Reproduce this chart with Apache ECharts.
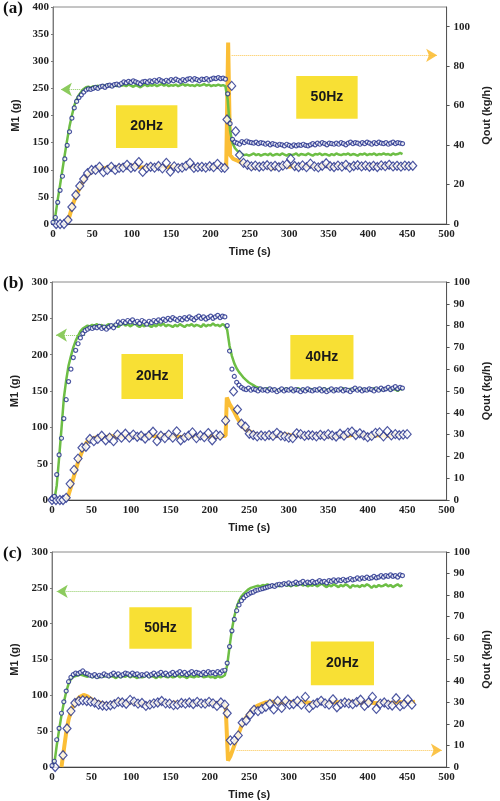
<!DOCTYPE html>
<html>
<head>
<meta charset="utf-8">
<script src="https://cdn.jsdelivr.net/npm/echarts@6/dist/echarts.min.js"></script>
<style>
  html, body { margin: 0; padding: 0; background: #fff; }
  #chart { width: 500px; height: 801px; }
</style>
</head>
<body>
<div id="chart"></div>
<script>
// sample times of the M1 record (s), shared by the three runs
const tM = [
  0, 3, 6, 9, 12, 15, 18, 21, 24, 27,
  30, 33, 36, 39, 42, 45, 48, 51, 54, 57,
  60, 63, 66, 69, 72, 75, 78, 81, 84, 87,
  90, 93, 96, 99, 102, 105, 108, 111, 114, 117,
  120, 123, 126, 129, 132, 135, 138, 141, 144, 147,
  150, 153, 156, 159, 162, 165, 168, 171, 174, 177,
  180, 183, 186, 189, 192, 195, 198, 201, 204, 207,
  210, 213, 216, 219, 222, 225, 228, 231, 234, 237,
  240, 243, 246, 249, 252, 255, 258, 261, 264, 267,
  270, 273, 276, 279, 282, 285, 288, 291, 294, 297,
  300, 303, 306, 309, 312, 315, 318, 321, 324, 327,
  330, 333, 336, 339, 342, 345, 348, 351, 354, 357,
  360, 363, 366, 369, 372, 375, 378, 381, 384, 387,
  390, 393, 396, 399, 402, 405, 408, 411, 414, 417,
  420, 423, 426, 429, 432, 435, 438, 441, 444
]

// (a) 20Hz -> 50Hz
const mA = [
  3, 12, 40, 62, 88, 120, 145, 170, 195, 214,
  226, 233, 238, 243, 247, 249, 248, 250, 252, 250,
  253, 254, 252, 255, 256, 254, 257, 258, 256, 259,
  262, 260, 263, 261, 264, 262, 260, 258, 262, 263,
  261, 264, 262, 265, 263, 266, 264, 262, 265, 263,
  266, 264, 267, 265, 263, 266, 264, 267, 268, 265,
  268, 266, 264, 267, 266, 268, 265, 267, 269, 268,
  270, 268, 269, 267, 240, 185, 156, 151, 149, 147,
  152, 150, 153, 151, 150, 149, 151, 148, 150, 149,
  147, 149, 146, 148, 147, 145, 147, 146, 144, 147,
  145, 143, 146, 144, 146, 145, 147, 145, 144, 146,
  148, 146, 149, 147, 150, 148, 146, 149, 148, 147,
  149, 147, 150, 148, 146, 149, 151, 148, 150, 149,
  147, 150, 148, 151, 149, 147, 150, 148, 151, 149,
  148, 150, 147, 149, 151, 148, 150, 149, 148
]
const gA = [
  0, 15, 45, 72, 100, 128, 155, 180, 200, 218,
  230, 238, 244, 249, 252, 253, 251, 254, 253, 255,
  252, 256, 254, 257, 255, 253, 256, 254, 257, 255,
  256, 254, 257, 255, 253, 256, 254, 252, 255, 257,
  254, 256, 255, 257, 254, 256, 258, 255, 257, 254,
  256, 255, 257, 254, 256, 258, 255, 257, 255, 256,
  254, 257, 255, 256, 258, 255, 257, 254, 256, 255,
  257, 255, 256, 254, 228, 172, 149, 140, 135, 132,
  129, 127, 128, 126, 128, 130, 127, 129, 126, 128,
  129, 127, 130, 126, 128, 129, 127, 130, 128, 126,
  129, 127, 128, 130, 126, 129, 128, 127, 130, 128,
  126, 129, 128, 130, 127, 129, 128, 126, 129, 127,
  130, 128, 127, 129, 128, 130, 127, 129, 128, 126,
  129, 128, 130, 127, 129, 128, 130, 127, 129, 128,
  130, 128, 129, 127, 130, 128, 129, 131, 129
]
const qA = [
  [4, 0], [9, 0], [14, 0], [19, 2], [24, 8.6], [29, 14.7], [34, 19.3], [39, 22.8], [44, 25.8], [49, 27.4],
  [54, 27.4], [59, 29], [64, 26.3], [69, 27.4], [74, 29], [79, 27.4], [84, 28.4], [89, 28.6], [94, 30], [99, 28.4],
  [104, 29], [109, 31.4], [114, 26.4], [119, 28.4], [124, 29], [129, 28.6], [134, 29.4], [139, 28.2], [144, 31], [149, 26.5],
  [154, 29.2], [159, 28.3], [164, 28.6], [169, 29.5], [174, 31], [179, 28.4], [184, 28.8], [189, 29], [194, 28.6], [199, 29.3],
  [204, 28.8], [209, 30.5], [214, 28.6], [218, 28.4], [221, 53], [227, 70], [232, 47], [237, 35], [242, 31], [247, 30],
  [252, 29.2], [257, 29.6], [262, 29], [267, 29.3], [272, 29.8], [277, 29.1], [282, 29.5], [287, 28.8], [292, 29.6], [297, 30.2],
  [302, 33], [307, 29.4], [312, 28.9], [317, 29.7], [322, 28.8], [327, 30.6], [332, 29.2], [337, 28.7], [342, 29.5], [347, 30.8],
  [352, 29.3], [357, 28.9], [362, 29.6], [367, 29.1], [372, 30], [377, 28.6], [382, 29.4], [387, 29.8], [392, 29.2], [397, 29.6],
  [402, 29], [407, 29.5], [412, 28.9], [417, 29.7], [422, 29.3], [427, 30], [432, 29.2], [437, 29.5], [442, 29.1], [447, 29.6],
  [452, 29.3], [457, 29.5]
]
const oA = [
  [17, 0], [21, 4], [25, 9.7], [30, 15], [34, 18.3], [38, 21.5], [42, 24], [46, 25.5], [50, 26.8], [55, 28],
  [60, 28.5], [65, 28.2], [70, 28.8], [75, 28.2], [80, 28.6], [85, 29], [90, 29.5], [95, 29], [100, 29.4], [105, 30],
  [110, 28.8], [115, 28.6], [120, 29], [125, 29.3], [130, 28.9], [135, 29.6], [140, 29.2], [145, 28.7], [150, 29.1], [155, 28.8],
  [160, 29.2], [165, 29], [170, 29.6], [175, 29.2], [180, 28.9], [185, 29.1], [190, 28.8], [195, 29.2], [200, 29], [205, 29.3],
  [210, 29], [215, 28.8], [220, 28.6], [222.5, 92], [225, 35], [229, 33], [235, 32], [240, 31], [245, 30], [250, 29.4],
  [255, 28.4], [260, 29.8], [265, 29.2], [270, 29.6], [275, 28.6], [280, 28.2], [285, 29.8], [290, 29.3], [295, 29.7], [300, 29],
  [305, 29.5], [310, 28.9], [315, 29.6], [320, 29.2], [325, 29.8], [330, 29.3], [335, 28.8], [340, 29.5], [345, 29.9], [350, 29.3],
  [355, 29], [360, 29.6], [365, 29.2], [370, 29.8], [375, 29.1], [380, 29.5], [385, 29.7], [390, 29.2], [395, 29.6], [400, 29.1],
  [405, 29.5], [410, 29.2], [415, 29.7], [420, 29.3], [425, 29.8], [430, 29.2], [435, 29.6], [440, 29.3], [445, 29.5], [450, 29.4],
  [455, 29.6]
]

// (b) 20Hz -> 40Hz
const mB = [
  2, 5, 35, 62, 85, 112, 138, 163, 180, 196,
  206, 215, 223, 229, 233, 235, 237, 236, 238, 237,
  239, 236, 238, 235, 238, 240, 237, 241, 245, 243,
  246, 244, 247, 245, 248, 244, 246, 243, 247, 245,
  242, 246, 244, 247, 245, 248, 246, 249, 247, 250,
  248, 251, 249, 247, 250, 248, 251, 249, 252, 250,
  248, 251, 253, 250, 252, 249, 251, 253, 250, 252,
  254, 251, 253, 252, 240, 205, 180, 170, 162, 158,
  155, 153, 152, 154, 151, 153, 152, 150, 153, 151,
  152, 150, 153, 151, 152, 149, 151, 153, 150, 152,
  151, 153, 150, 152, 151, 149, 152, 150, 153, 151,
  150, 152, 151, 153, 150, 152, 149, 151, 153, 150,
  152, 151, 153, 150, 152, 151, 149, 152, 154, 151,
  153, 150, 152, 151, 153, 152, 150, 153, 151, 154,
  152, 153, 155, 152, 154, 156, 153, 155, 154
]
const gB = [
  0, 0, 20, 58, 98, 140, 165, 185, 198, 210,
  219, 226, 232, 236, 238, 240, 239, 241, 240, 242,
  239, 241, 238, 240, 242, 239, 241, 240, 238, 241,
  243, 240, 242, 239, 241, 243, 240, 238, 241, 239,
  242, 240, 238, 241, 239, 242, 240, 243, 239, 241,
  240, 238, 241, 239, 242, 240, 238, 241, 240, 242,
  239, 241, 240, 238, 242, 239, 241, 240, 243, 240,
  241, 239, 242, 240, 234, 212, 198, 188, 181, 176,
  172, 168, 165, 162, 160, 158, 156, 155, 154, 153,
  152, 154, 151, 153, 152, 150, 153, 151, 152, 154,
  151, 153, 150, 152, 154, 151, 153, 152, 150, 153,
  152, 151, 153, 150, 152, 154, 151, 153, 152, 150,
  153, 151, 152, 154, 150, 152, 153, 151, 154, 152,
  151, 153, 152, 150, 153, 151, 154, 152, 153, 151,
  153, 152, 154, 151, 153, 152, 150, 153, 152
]
const qB = [
  [0, 0], [5, 0], [10, 0], [14, 0], [18, 1], [23, 7.4], [28, 13.8], [33, 19], [38, 24], [43, 24.4],
  [48, 28], [53, 27], [58, 28], [63, 29.5], [68, 27.4], [73, 28.6], [78, 27], [83, 30], [88, 28.6], [93, 30.4],
  [98, 28.6], [103, 30], [108, 29], [113, 29.5], [118, 28.2], [123, 29.6], [128, 31.3], [133, 27], [138, 29.5], [143, 28.4],
  [148, 30], [153, 28.6], [158, 31.5], [163, 27.4], [168, 28.6], [173, 29.5], [178, 31], [183, 28.4], [188, 29.6], [193, 28.8],
  [198, 30.7], [203, 27.4], [208, 30], [213, 29.5], [220, 36.4], [230, 49.8], [235, 41.5], [240, 35], [245, 33.6], [250, 30.4],
  [255, 29.8], [260, 29.2], [265, 29.6], [270, 29.3], [275, 29.8], [280, 29.4], [285, 30.8], [290, 29.5], [295, 29.2], [300, 28.6],
  [305, 28.4], [310, 30.6], [315, 30.2], [320, 29.4], [325, 29.8], [330, 29.6], [335, 29.2], [340, 29.9], [345, 29.4], [350, 30.2],
  [355, 29.6], [360, 29.1], [365, 30.4], [370, 29.5], [375, 30.9], [380, 31.4], [385, 29.8], [390, 30.6], [395, 29.7], [400, 28.8],
  [405, 29.4], [410, 30.8], [415, 31], [420, 29.2], [425, 31.6], [430, 29.6], [435, 30.2], [440, 29.7], [445, 30], [450, 30.2]
]
const oB = [
  [19, 0], [24, 6], [29, 12.5], [34, 18.5], [39, 23], [44, 26.5], [49, 28], [54, 28.5], [59, 29], [64, 28.4],
  [69, 28.8], [74, 29.5], [79, 28.8], [84, 29.3], [89, 29], [94, 29.6], [99, 28.8], [104, 29.3], [109, 28.9], [114, 29.5],
  [119, 29.1], [124, 29.8], [129, 29.4], [134, 28.8], [139, 29.3], [144, 29.8], [149, 29], [154, 29.5], [159, 29.2], [164, 28.8],
  [169, 29.4], [174, 29], [179, 29.6], [184, 29.2], [189, 29], [194, 29.5], [199, 29.1], [204, 29.4], [209, 29], [214, 29.2],
  [220, 29.5], [221.5, 47], [225, 44], [230, 41], [235, 37.5], [240, 34.5], [245, 32.5], [250, 31.5], [255, 30.5], [260, 30],
  [265, 29.6], [275, 29.9], [285, 29.4], [295, 30.2], [305, 29.5], [315, 29.8], [325, 29.3], [335, 30], [345, 29.6], [355, 29],
  [365, 29.8], [375, 29.4], [385, 30.1], [395, 29.7], [405, 29.2], [415, 29.8], [425, 29.5], [435, 30], [445, 29.8]
]

// (c) 50Hz -> 20Hz
const mC = [
  2, 8, 38, 54, 75, 91, 106, 119, 125, 129,
  131, 130, 132, 134, 131, 130, 128, 127, 129, 126,
  128, 127, 130, 128, 127, 129, 131, 128, 130, 127,
  129, 131, 130, 128, 131, 129, 130, 127, 129, 128,
  130, 127, 129, 131, 128, 130, 132, 129, 131, 128,
  130, 132, 129, 131, 133, 130, 132, 129, 131, 133,
  130, 132, 131, 129, 132, 130, 133, 131, 132, 130,
  133, 131, 134, 135, 145, 168, 190, 206, 218, 226,
  232, 236, 239, 241, 243, 244, 246, 247, 248, 249,
  250, 251, 252, 253, 252, 254, 255, 254, 256, 255,
  257, 255, 256, 258, 256, 257, 259, 256, 258, 257,
  259, 257, 258, 260, 258, 259, 257, 260, 259, 261,
  259, 261, 260, 262, 260, 261, 263, 261, 262, 264,
  262, 264, 263, 265, 263, 264, 266, 264, 265, 267,
  265, 267, 266, 268, 266, 267, 265, 268, 267
]
const gC = [
  0, 5, 30, 52, 72, 90, 105, 116, 123, 126,
  127, 128, 129, 128, 127, 126, 128, 125, 127, 126,
  125, 127, 126, 128, 125, 127, 126, 124, 127, 125,
  127, 126, 128, 125, 127, 126, 124, 127, 125, 126,
  128, 125, 127, 126, 124, 127, 125, 128, 126, 125,
  127, 125, 126, 128, 125, 127, 126, 124, 127, 126,
  125, 127, 126, 128, 125, 126, 127, 125, 126, 124,
  127, 125, 126, 128, 142, 168, 192, 210, 223, 232,
  238, 242, 245, 248, 250, 251, 252, 253, 252, 254,
  253, 255, 252, 254, 253, 255, 252, 254, 256, 253,
  254, 252, 255, 253, 254, 256, 253, 255, 252, 254,
  253, 255, 252, 254, 256, 253, 251, 254, 252, 255,
  253, 251, 254, 252, 255, 253, 250, 254, 252, 253,
  251, 254, 252, 255, 253, 250, 253, 251, 254, 252,
  253, 255, 252, 254, 251, 253, 255, 252, 254
]
const qC = [
  [4, 0], [14, 5.5], [19, 17.9], [24, 26], [29, 29.8], [34, 30.7], [39, 31], [44, 30.7], [49, 30.4], [54, 30],
  [59, 29], [64, 28.6], [69, 28.4], [74, 28.7], [79, 29.2], [84, 30.3], [89, 30], [94, 29.4], [99, 31.2], [104, 30.4],
  [109, 29.5], [114, 29.8], [119, 28.4], [124, 29], [129, 29.6], [134, 30], [139, 30.7], [144, 29.6], [149, 29.5], [154, 28.8],
  [159, 29], [164, 29.8], [169, 29.5], [174, 30], [179, 29.3], [184, 30.3], [189, 29.6], [194, 29.5], [199, 30.3], [204, 29.6],
  [209, 28.4], [214, 30], [219, 29], [222, 25], [226, 12.4], [231, 12.4], [236, 14.7], [241, 20.6], [246, 21.6], [251, 24.3],
  [256, 26.6], [261, 26], [266, 27], [271, 28], [276, 29.4], [281, 26.8], [286, 30.7], [291, 27.5], [296, 30.7], [301, 29],
  [306, 29.3], [311, 30.7], [316, 29], [321, 32.6], [326, 27.5], [331, 29], [336, 29.8], [341, 30.8], [346, 29.6], [351, 29],
  [356, 31.5], [361, 27.8], [366, 29.4], [371, 30], [376, 29.6], [381, 29.2], [386, 30.2], [391, 31.3], [396, 28.4], [401, 30],
  [406, 32.6], [411, 27], [416, 29.5], [421, 30], [426, 29], [431, 28.6], [436, 32], [441, 28.3], [446, 29.2], [451, 31.4],
  [456, 29]
]
const oC = [
  [12, 0], [15, 8], [18, 16], [21, 22], [25, 27], [30, 30.5], [35, 32.5], [40, 33.5], [45, 32.8], [50, 31.5],
  [55, 30.5], [60, 30], [65, 29.5], [70, 29], [75, 29.3], [80, 30.2], [85, 30.8], [90, 30.3], [95, 29.6], [100, 30.2],
  [105, 29.8], [110, 29.3], [115, 29.6], [120, 29.2], [125, 29.5], [130, 30], [135, 29.6], [140, 30.3], [145, 29.8], [150, 29.5],
  [155, 30], [160, 29.4], [165, 29.8], [170, 30.2], [175, 29.7], [180, 30], [185, 29.5], [190, 29.9], [195, 29.4], [200, 30],
  [205, 29.6], [210, 29.8], [215, 29.4], [220, 28.5], [223, 3], [226, 5], [230, 9], [235, 14], [240, 19], [245, 22.5],
  [250, 25], [255, 27], [260, 28.5], [265, 29.3], [270, 30], [280, 30.3], [290, 29.8], [300, 30.4], [310, 29.9], [320, 30.2],
  [330, 29.7], [340, 30.3], [350, 29.8], [360, 30.2], [370, 29.9], [380, 30.4], [390, 29.8], [400, 30.2], [410, 29.7], [420, 30.1],
  [430, 29.8], [440, 30.2], [450, 29.9], [460, 30.4]
]

// frequency boxes [label, t from, t to, M1 low, M1 high]
const boxesA = [['20Hz', 80, 158, 140, 219], ['50Hz', 309, 387, 194, 273]]
const boxesB = [['20Hz', 88, 166, 139, 201], ['40Hz', 302, 382, 166, 227]]
const boxesC = [['50Hz', 98, 177, 165, 223], ['20Hz', 328, 408, 114, 175]]

// axis pointer arrows [t start, t end, value]
const arrowGA = [60, 10, 248], arrowOA = [227, 488, 85.5]
const arrowGB = [42, 5, 227], arrowOB = [246, 505, 40.1]
const arrowGC = [240, 6, 245], arrowOC = [234, 494, 7.8]

const panels = [
  { tag: '(a)', top: 7, height: 217, left: 53, mMax: 400, qMax: 110, qStep: 20, m: mA, g: gA, q: qA, o: oA, boxes: boxesA, ag: arrowGA, ao: arrowOA },
  { tag: '(b)', top: 282, height: 218, left: 52, mMax: 300, qMax: 100, qStep: 10, m: mB, g: gB, q: qB, o: oB, boxes: boxesB, ag: arrowGB, ao: arrowOB },
  { tag: '(c)', top: 552, height: 218, left: 52, mMax: 300, qMax: 100, qStep: 10, m: mC, g: gC, q: qC, o: oC, boxes: boxesC, ag: arrowGC, ao: arrowOC }
]

const serif = 'Liberation Serif'
const sans = 'Liberation Sans'
const tickFont = { fontFamily: serif, fontWeight: 'bold', fontSize: 11, color: '#222' }
const nameFont = { fontFamily: sans, fontWeight: 'bold', fontSize: 11, color: '#222' }
const GREEN = '#6DBE45'
const ORANGE = '#FBBE36'
const BLUE = '#1F2C8A'

const option = {
  animation: false,
  backgroundColor: '#fff',
  title: [],
  grid: [],
  xAxis: [],
  yAxis: [],
  series: []
}

panels.forEach((p, i) => {
  option.title.push({
    text: p.tag, left: 3, top: p.top - 7, padding: 0,
    textStyle: { fontFamily: serif, fontWeight: 'bold', fontSize: 17, color: '#111' }
  })
  option.grid.push({
    left: p.left, width: 453 - p.left, top: p.top, height: p.height,
    show: true, borderColor: '#8a8a8a', borderWidth: 1, backgroundColor: 'transparent'
  })
  option.xAxis.push({
    type: 'value', gridIndex: i, min: 0, max: 500, interval: 50,
    name: 'Time (s)', nameLocation: 'middle', nameGap: 22, nameTextStyle: nameFont,
    axisLine: { lineStyle: { color: '#444', width: 1 } },
    axisTick: { show: false },
    splitLine: { show: false },
    axisLabel: { ...tickFont, margin: 5 }
  })
  option.yAxis.push({
    type: 'value', gridIndex: i, position: 'left', min: 0, max: p.mMax, interval: 50,
    name: 'M1 (g)', nameLocation: 'middle', nameRotate: 90, nameGap: 29, nameTextStyle: nameFont,
    axisLine: { show: true, lineStyle: { color: '#7a7a7a', width: 1 } },
    axisTick: { show: true, length: 2, lineStyle: { color: '#7a7a7a' } },
    splitLine: { show: false },
    axisLabel: { ...tickFont, margin: 4 }
  })
  option.yAxis.push({
    type: 'value', gridIndex: i, position: 'right', min: 0, max: p.qMax, interval: p.qStep,
    name: 'Qout (kg/h)', nameLocation: 'middle', nameRotate: 90, nameGap: 24, nameTextStyle: nameFont,
    axisLine: { show: true, lineStyle: { color: '#555', width: 1 } },
    axisTick: { show: true, length: 3, lineStyle: { color: '#555' } },
    splitLine: { show: false },
    axisLabel: { ...tickFont, margin: 7, showMaxLabel: p.qMax % p.qStep === 0 }
  })
  const ym = i * 2, yq = i * 2 + 1

  // model Qout (orange)
  option.series.push({
    type: 'line', xAxisIndex: i, yAxisIndex: yq, data: p.o, showSymbol: false, clip: false, z: 2,
    lineStyle: { color: ORANGE, width: 4 }, itemStyle: { color: ORANGE },
    markLine: {
      silent: true, symbol: ['none', 'arrow'], symbolSize: [10, 11],
      label: { show: false },
      lineStyle: { color: ORANGE, width: 1, type: 'dotted', opacity: 0.9 },
      data: [[{ coord: [p.ao[0], p.ao[2]] }, { coord: [p.ao[1], p.ao[2]] }]]
    }
  })
  // model M1 (green) + frequency boxes
  option.series.push({
    type: 'line', xAxisIndex: i, yAxisIndex: ym, data: tM.map((t, k) => [t, p.g[k]]), showSymbol: false, z: 3,
    lineStyle: { color: GREEN, width: 2.5 }, itemStyle: { color: GREEN },
    markArea: {
      silent: true,
      itemStyle: { color: '#F8E034', opacity: 1 },
      label: { show: true, position: 'inside', fontFamily: sans, fontWeight: 'bold', fontSize: 14, color: '#1a1a1a' },
      data: p.boxes.map(b => [{ name: b[0], xAxis: b[1], yAxis: b[4] }, { xAxis: b[2], yAxis: b[3] }])
    },
    markLine: {
      silent: true, symbol: ['none', 'arrow'], symbolSize: [10, 11],
      label: { show: false },
      lineStyle: { color: '#8CCB5E', width: 1, type: 'dotted' },
      data: [[{ coord: [p.ag[0], p.ag[2]] }, { coord: [p.ag[1], p.ag[2]] }]]
    }
  })
  // measured Qout (diamonds)
  option.series.push({
    type: 'scatter', xAxisIndex: i, yAxisIndex: yq, data: p.q, symbol: 'diamond', symbolSize: [8, 9], z: 4,
    itemStyle: { color: '#fff', borderColor: BLUE, borderWidth: 1.2 }
  })
  // measured M1 (small circles)
  option.series.push({
    type: 'scatter', xAxisIndex: i, yAxisIndex: ym, data: tM.map((t, k) => [t, p.m[k]]), symbol: 'circle', symbolSize: 4, z: 5,
    itemStyle: { color: '#fff', borderColor: BLUE, borderWidth: 1.2 }
  })
})

const chart = echarts.init(document.getElementById('chart'), null, { renderer: 'canvas' })
chart.setOption(option)
</script>
</body>
</html>
